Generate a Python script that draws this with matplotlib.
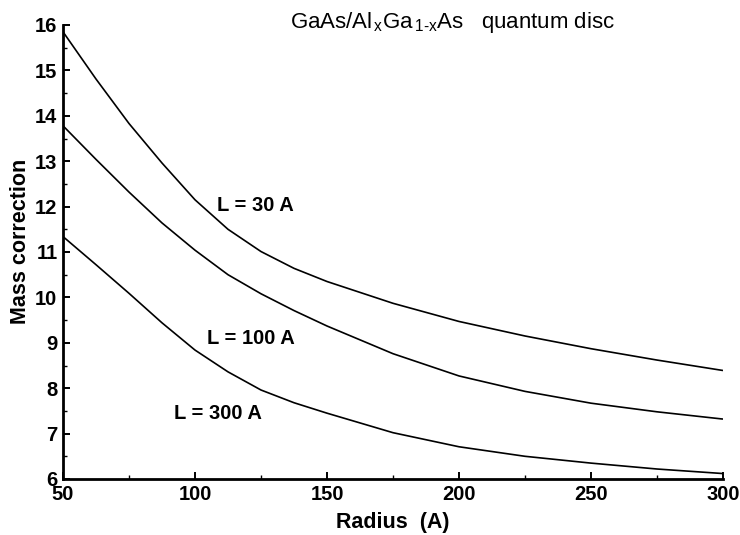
import matplotlib
matplotlib.use("Agg")
import matplotlib.pyplot as plt
from matplotlib.ticker import MultipleLocator

plt.rcParams['font.family'] = ['Liberation Sans', 'DejaVu Sans']
plt.rcParams['mathtext.fontset'] = 'custom'
plt.rcParams['mathtext.rm'] = 'Liberation Sans'
plt.rcParams['mathtext.it'] = 'Liberation Sans'

# Data
radius = [50, 62.5, 75, 87.5, 100, 112.5, 125, 137.5, 150, 175, 200, 225, 250, 275, 300]
mass_L30 = [15.85, 14.81, 13.83, 12.96, 12.15, 11.50, 11.01, 10.64, 10.35, 9.87, 9.47, 9.15, 8.87, 8.62, 8.39]
mass_L100 = [13.78, 13.04, 12.32, 11.64, 11.04, 10.50, 10.08, 9.71, 9.37, 8.76, 8.27, 7.93, 7.67, 7.48, 7.32]
mass_L300 = [11.34, 10.72, 10.09, 9.44, 8.84, 8.36, 7.96, 7.68, 7.45, 7.02, 6.71, 6.50, 6.35, 6.22, 6.12]

series = [mass_L30, mass_L100, mass_L300]
curve_labels = ["L = 30 A", "L = 100 A", "L = 300 A"]
label_pos = [(122.7, 12.03), (121.2, 9.1), (108.7, 7.45)]

x_ticks = [50, 100, 150, 200, 250, 300]
y_ticks = [6, 7, 8, 9, 10, 11, 12, 13, 14, 15, 16]

W, H = 740, 535
fig = plt.figure(figsize=(W / 100, H / 100), dpi=100)
ax = fig.add_axes([63 / W, 56 / H, 660 / W, 454 / H])

for ys in series:
    ax.plot(radius, ys, color='black', lw=1.2, solid_capstyle='butt',
            solid_joinstyle='round')

for txt, (x, y) in zip(curve_labels, label_pos):
    ax.text(x, y, txt, ha='center', va='center', fontsize=14.5, fontweight='bold')

ax.set_xlim(50, 300)
ax.set_ylim(6, 16)
ax.set_xticks(x_ticks)
ax.set_yticks(y_ticks)
ax.xaxis.set_minor_locator(MultipleLocator(25))
ax.yaxis.set_minor_locator(MultipleLocator(0.5))

for s in ['top', 'right']:
    ax.spines[s].set_visible(False)
for s in ['left', 'bottom']:
    ax.spines[s].set_linewidth(2.0)

ax.tick_params(which='major', direction='in', length=5, width=1.4, labelsize=14.5)
ax.tick_params(axis='y', which='major', pad=4)
ax.tick_params(axis='x', which='major', pad=4)
ax.tick_params(which='minor', direction='in', length=3, width=1.0)
for lab in ax.get_xticklabels() + ax.get_yticklabels():
    lab.set_fontweight('bold')

fig.text(392.5 / W, 1 - 528 / H, "Radius  (A)", ha='center', va='baseline',
         fontsize=15.5, fontweight='bold')
fig.text(21 / W, 1 - 241 / H, "Mass correction", ha='center', va='center',
         rotation=90, fontsize=15.5, fontweight='bold')

fig.text(290 / W, 1 - 28 / H,
         r"GaAs/Al$_{\,\mathrm{x}}$Ga$_{\,\mathrm{1\text{-}x}}$As   quantum disc",
         ha='left', va='baseline', fontsize=16)

fig.savefig("out.png", dpi=100)
